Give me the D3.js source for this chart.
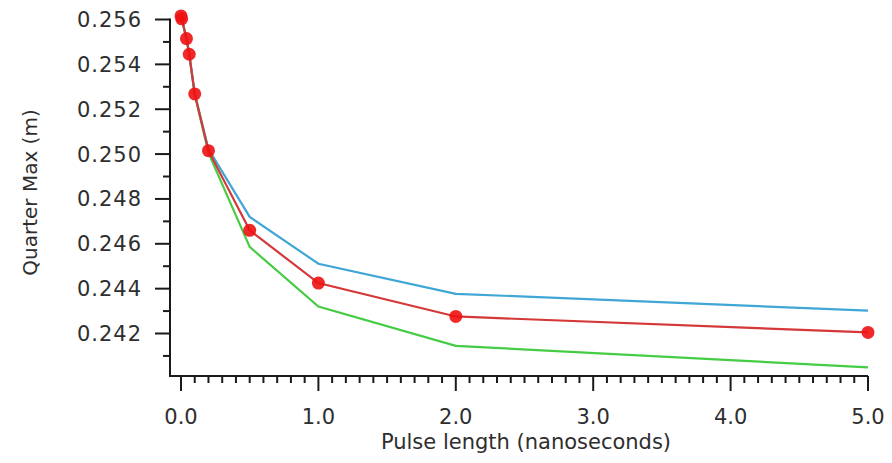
<!DOCTYPE html>
<html>
<head>
<meta charset="utf-8">
<script src="https://cdn.jsdelivr.net/npm/d3@7"></script>
<style>
  html, body { margin: 0; padding: 0; background: #fff; }
  svg text { font-family: "DejaVu Sans", Verdana, sans-serif; fill: #2e2e2e; }
</style>
</head>
<body>
<svg id="chart" width="892" height="463"></svg>
<script>
// Pulse length (ns)
const pulseLength = [0, 0.005, 0.04, 0.06, 0.1, 0.2, 0.5, 1, 2, 5];
// Quarter Max (m) series
const redSeries   = [0.25616, 0.25603, 0.25515, 0.25445, 0.25268, 0.25015, 0.24660, 0.24425, 0.24276, 0.24205];
const blueSeries  = [0.25616, 0.25603, 0.25515, 0.25445, 0.25270, 0.25022, 0.24720, 0.24511, 0.24377, 0.24302];
const greenSeries = [0.25616, 0.25603, 0.25515, 0.25445, 0.25265, 0.25005, 0.24586, 0.24320, 0.24145, 0.24049];
const xTicks = [0, 1, 2, 3, 4, 5];
const xTickLabels = ["0.0", "1.0", "2.0", "3.0", "4.0", "5.0"];
const yTicks = [0.242, 0.244, 0.246, 0.248, 0.250, 0.252, 0.254, 0.256];
const xTitle = "Pulse length (nanoseconds)";
const yTitle = "Quarter Max (m)";

const svg = d3.select("#chart");
const x = d3.scaleLinear().domain([-0.08, 5]).range([170, 868]);
const y = d3.scaleLinear().domain([0.24015, 0.256]).range([375, 19.5]);

const axisColor = "#1a1a1a";
const majorLen = 15, minorLen = 7;

// X axis
const gx = svg.append("g");
gx.append("line").attr("x1", x.range()[0]).attr("x2", x.range()[1])
  .attr("y1", 376).attr("y2", 376).attr("stroke", axisColor).attr("stroke-width", 2);
const xMinor = d3.range(0, 51).map(i => i / 10);
gx.selectAll("line.minor").data(xMinor).enter().append("line")
  .attr("x1", d => x(d)).attr("x2", d => x(d))
  .attr("y1", 376).attr("y2", d => 376 + (Math.abs(d - Math.round(d)) < 1e-9 ? majorLen : minorLen))
  .attr("stroke", axisColor).attr("stroke-width", 2);
gx.selectAll("text").data(xTicks).enter().append("text")
  .attr("x", d => x(d)).attr("y", 424)
  .attr("text-anchor", "middle").attr("font-size", 21)
  .text((d, i) => xTickLabels[i]);

// Y axis
const gy = svg.append("g");
gy.append("line").attr("x1", 170).attr("x2", 170)
  .attr("y1", y.range()[1] - 1).attr("y2", 377).attr("stroke", axisColor).attr("stroke-width", 2);
const yMinor = d3.range(241, 257).map(i => i / 1000);
gy.selectAll("line.minor").data(yMinor).enter().append("line")
  .attr("y1", d => y(d)).attr("y2", d => y(d))
  .attr("x1", 170).attr("x2", d => 170 - (Math.round(d * 1000) % 2 === 0 ? majorLen : minorLen))
  .attr("stroke", axisColor).attr("stroke-width", 2);
gy.selectAll("text").data(yTicks).enter().append("text")
  .attr("x", 142).attr("y", d => y(d)).attr("dy", "0.36em")
  .attr("text-anchor", "end").attr("font-size", 21).attr("letter-spacing", 1)
  .text(d => d3.format(".3f")(d));

// Titles
svg.append("text").attr("x", 526).attr("y", 449).attr("text-anchor", "middle")
  .attr("font-size", 21).text(xTitle);
svg.append("text").attr("transform", "translate(37,192.5) rotate(-90)")
  .attr("text-anchor", "middle").attr("font-size", 20).text(yTitle);

// Lines
const line = vals => d3.line().x((d, i) => x(pulseLength[i])).y(d => y(d))(vals);
svg.append("path").attr("d", line(greenSeries)).attr("fill", "none")
  .attr("stroke", "#45cc45").attr("stroke-width", 2.2);
svg.append("path").attr("d", line(blueSeries)).attr("fill", "none")
  .attr("stroke", "#3fa6d6").attr("stroke-width", 2.2);
svg.append("path").attr("d", line(redSeries)).attr("fill", "none")
  .attr("stroke", "#d43838").attr("stroke-width", 2.2);
svg.selectAll("circle.pt").data(redSeries).enter().append("circle")
  .attr("cx", (d, i) => x(pulseLength[i])).attr("cy", d => y(d)).attr("r", 6.5)
  .attr("fill", "#ee1111").attr("fill-opacity", 0.9);
</script>
</body>
</html>
